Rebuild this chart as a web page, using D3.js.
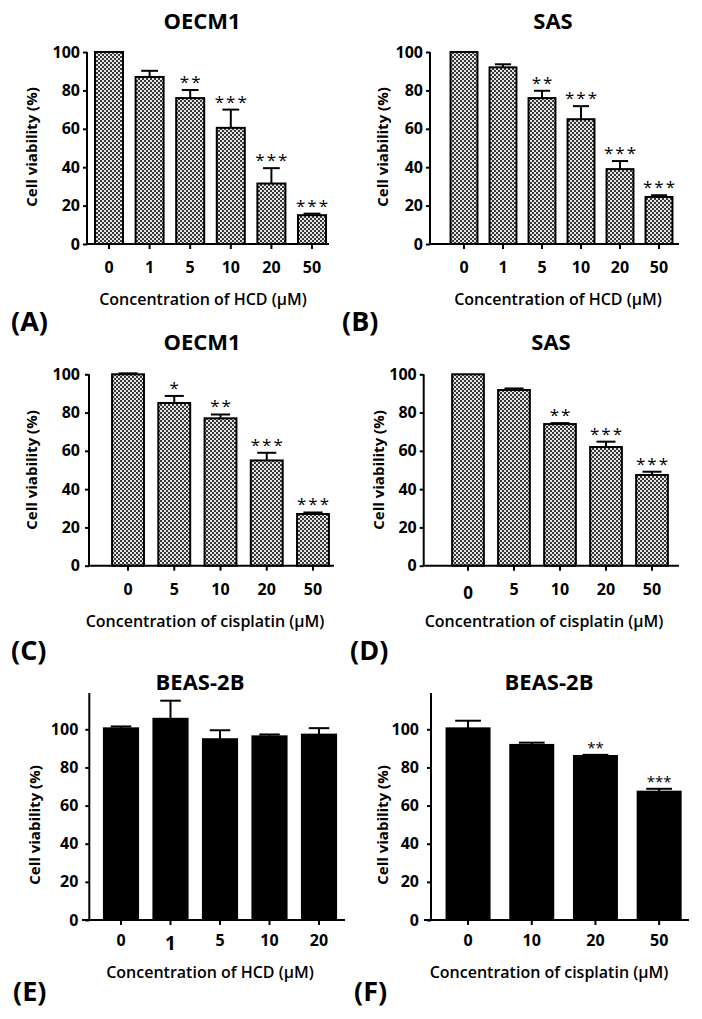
<!DOCTYPE html>
<html>
<head>
<meta charset="utf-8">
<script src="https://cdn.jsdelivr.net/npm/d3@7"></script>
<style>
  body { margin: 0; background: #fff; }
  svg { display: block; }
</style>
</head>
<body>
<div id="figure"></div>
<script>
// doses (µM)
const hcdDoses = ["0", "1", "5", "10", "20", "50"];
const cisDoses = ["0", "5", "10", "20", "50"];
const beasHcdDoses = ["0", "1", "5", "10", "20"];
const beasCisDoses = ["0", "10", "20", "50"];

// (A) OECM1 + HCD
const oecm1HcdMean = [100, 87, 76, 60.5, 31.5, 15];
const oecm1HcdSd = [0, 3.2, 4.2, 9.5, 8, 0.8];
const oecm1HcdStars = ["", "", "**", "***", "***", "***"];

// (B) SAS + HCD
const sasHcdMean = [100, 92, 76, 65, 39, 24.5];
const sasHcdSd = [0, 1.6, 3.8, 6.8, 4.2, 0.9];
const sasHcdStars = ["", "", "**", "***", "***", "***"];

// (C) OECM1 + cisplatin
const oecm1CisMean = [100, 85, 77, 55, 27];
const oecm1CisSd = [0.5, 3.7, 2, 4, 0.8];
const oecm1CisStars = ["", "*", "**", "***", "***"];

// (D) SAS + cisplatin
const sasCisMean = [100, 91.8, 74, 62, 47.4];
const sasCisSd = [0, 0.8, 0.5, 2.8, 1.7];
const sasCisStars = ["", "", "**", "***", "***"];

// (E) BEAS-2B + HCD
const beasHcdMean = [100.5, 105.5, 94.8, 96.3, 97.2];
const beasHcdSd = [1, 9.5, 4.7, 1, 3.4];
const beasHcdStars = ["", "", "", "", ""];

// (F) BEAS-2B + cisplatin
const beasCisMean = [100.5, 91.8, 86, 67.3];
const beasCisSd = [4, 1.2, 0.6, 1.5];
const beasCisStars = ["", "", "**", "***"];

const yTicks = [0, 20, 40, 60, 80, 100];

const FONT = "'Open Sans', Lato, sans-serif";

const panels = [
  { label: "(A)", title: "OECM1", doses: hcdDoses, mean: oecm1HcdMean, sd: oecm1HcdSd, stars: oecm1HcdStars,
    xTitle: "Concentration of HCD (µM)", fill: "url(#checker)", starSize: 17, starSpacing: 2,
    axisX: 87, xRange: [88.7, 332.3], pad: 0.31, xStart: 87, xEnd: 329, y0: 244, y100: 52, yTop: 100,
    titleX: 202, titleY: 29, yTitleX: 32, yTitleY: 147, xTitleX: 203, xTitleY: 305,
    labelX: 11, labelY: 331, tickPad: 3, xTickPad: 13 },
  { label: "(B)", title: "SAS", doses: hcdDoses, mean: sasHcdMean, sd: sasHcdSd, stars: sasHcdStars,
    xTitle: "Concentration of HCD (µM)", fill: "url(#checker)", starSize: 17, starSpacing: 2,
    axisX: 430, xRange: [444.5, 678.5], pad: 0.31, xStart: 430, xEnd: 679, y0: 244, y100: 52, yTop: 100,
    titleX: 553, titleY: 29, yTitleX: 383, yTitleY: 147, xTitleX: 558, xTitleY: 305,
    labelX: 342, labelY: 331, tickPad: 3, xTickPad: 13 },
  { label: "(C)", title: "OECM1", doses: cisDoses, mean: oecm1CisMean, sd: oecm1CisSd, stars: oecm1CisStars,
    xTitle: "Concentration of cisplatin (µM)", fill: "url(#checker)", starSize: 17, starSpacing: 2,
    axisX: 89, xRange: [104.9, 336.1], pad: 0.31, xStart: 89, xEnd: 334, y0: 565.7, y100: 374.3, yTop: 100,
    titleX: 202, titleY: 350, yTitleX: 32, yTitleY: 470, xTitleX: 205, xTitleY: 627,
    labelX: 11, labelY: 660, tickPad: 5, xTickPad: 13 },
  { label: "(D)", title: "SAS", doses: cisDoses, mean: sasCisMean, sd: sasCisSd, stars: sasCisStars,
    xTitle: "Concentration of cisplatin (µM)", fill: "url(#checker)", starSize: 17, starSpacing: 2,
    axisX: 423.7, xRange: [445, 675], pad: 0.31, xStart: 423.7, xEnd: 679, y0: 565.7, y100: 374.3, yTop: 100,
    titleX: 551, titleY: 350, yTitleX: 379, yTitleY: 470, xTitleX: 544, xTitleY: 627,
    labelX: 350, labelY: 660, tickPad: 3, xTickPad: 13, oddTick: "0", oddSize: 17, oddShift: 3 },
  { label: "(E)", title: "BEAS-2B", doses: beasHcdDoses, mean: beasHcdMean, sd: beasHcdSd, stars: beasHcdStars,
    xTitle: "Concentration of HCD (µM)", fill: "#000", starSize: 17, starSpacing: 2,
    axisX: 89.3, xRange: [96.25, 343.75], pad: 0.31, xStart: 82, xEnd: 345, y0: 920, y100: 729.3, yTop: 119,
    titleX: 200, titleY: 690, yTitleX: 35, yTitleY: 825, xTitleX: 210, xTitleY: 978,
    labelX: 13, labelY: 1001, tickPad: 7, xTickPad: 10, oddTick: "1", oddSize: 19, oddShift: 2 },
  { label: "(F)", title: "BEAS-2B", doses: beasCisDoses, mean: beasCisMean, sd: beasCisSd, stars: beasCisStars,
    xTitle: "Concentration of cisplatin (µM)", fill: "#000", starSize: 15, starSpacing: 0,
    axisX: 431, xRange: [436.2, 691], pad: 0.325, xStart: 424, xEnd: 689, y0: 920, y100: 729.3, yTop: 119,
    titleX: 549, titleY: 690, yTitleX: 383, yTitleY: 825, xTitleX: 549, xTitleY: 978,
    labelX: 354, labelY: 1001, tickPad: 8, xTickPad: 10 }
];

const svg = d3.select("#figure")
  .append("svg")
    .attr("width", 702)
    .attr("height", 1019)
    .style("font-family", FONT);

// checkered fill used by the patterned bars
const pat = svg.append("defs")
  .append("pattern")
    .attr("id", "checker")
    .attr("width", 4)
    .attr("height", 4)
    .attr("patternUnits", "userSpaceOnUse");
pat.append("rect").attr("width", 4).attr("height", 4).attr("fill", "#e4e4e4");
pat.append("rect").attr("width", 2).attr("height", 2).attr("fill", "#383838");
pat.append("rect").attr("x", 2).attr("y", 2).attr("width", 2).attr("height", 2).attr("fill", "#383838");

function drawPanel(p) {
  const g = svg.append("g");

  const x = d3.scaleBand()
              .domain(p.doses)
              .range(p.xRange)
              .paddingInner(p.pad)
              .paddingOuter(p.pad / 2);

  const y = d3.scaleLinear()
              .domain([0, 100])
              .range([p.y0, p.y100]);

  const rows = p.doses.map((d, i) => ({ dose: d, mean: p.mean[i], sd: p.sd[i], star: p.stars[i] }));

  // bars
  g.selectAll(".bar")
    .data(rows)
    .enter()
    .append("rect")
      .classed("bar", true)
      .attr("x", d => x(d.dose))
      .attr("y", d => y(d.mean))
      .attr("width", x.bandwidth())
      .attr("height", d => p.y0 - y(d.mean))
      .attr("fill", p.fill)
      .attr("stroke", "#000")
      .attr("stroke-width", 2);

  // error bars (upper only)
  const capW = x.bandwidth() * 0.6;
  const err = g.selectAll(".err")
    .data(rows.filter(d => d.sd > 0))
    .enter()
    .append("g")
      .classed("err", true);
  err.append("line")
      .attr("x1", d => x(d.dose) + x.bandwidth() / 2)
      .attr("x2", d => x(d.dose) + x.bandwidth() / 2)
      .attr("y1", d => y(d.mean))
      .attr("y2", d => y(d.mean + d.sd))
      .attr("stroke", "#000")
      .attr("stroke-width", 2);
  err.append("line")
      .attr("x1", d => x(d.dose) + x.bandwidth() / 2 - capW / 2)
      .attr("x2", d => x(d.dose) + x.bandwidth() / 2 + capW / 2)
      .attr("y1", d => y(d.mean + d.sd))
      .attr("y2", d => y(d.mean + d.sd))
      .attr("stroke", "#000")
      .attr("stroke-width", 2);

  // significance stars
  g.selectAll(".star")
    .data(rows.filter(d => d.star))
    .enter()
    .append("text")
      .classed("star", true)
      .attr("x", d => x(d.dose) + x.bandwidth() / 2 + p.starSpacing / 2)
      .attr("y", d => y(d.mean + d.sd) - 2)
      .attr("text-anchor", "middle")
      .attr("font-size", p.starSize)
      .attr("letter-spacing", p.starSpacing)
      .attr("fill", "#000")
      .text(d => d.star);

  // y axis
  const ya = g.append("g")
    .attr("transform", `translate(${p.axisX},0)`)
    .call(d3.axisLeft(y).tickValues(yTicks).tickSize(4).tickSizeOuter(0).tickPadding(p.tickPad));
  ya.select(".domain").remove();
  ya.attr("font-size", 16).attr("font-family", FONT).attr("font-weight", "bold");
  ya.selectAll(".tick line").attr("stroke-width", 2);
  g.append("line")
    .attr("x1", p.axisX).attr("x2", p.axisX)
    .attr("y1", y(p.yTop)).attr("y2", p.y0)
    .attr("stroke", "#000").attr("stroke-width", 2);

  // x axis
  const xa = g.append("g")
    .attr("transform", `translate(0,${p.y0})`)
    .call(d3.axisBottom(x).tickSize(5).tickSizeOuter(0).tickPadding(p.xTickPad));
  xa.select(".domain").remove();
  xa.attr("font-size", 16).attr("font-family", FONT).attr("font-weight", "bold");
  xa.selectAll(".tick line").attr("stroke-width", 2);
  // one label in (D) and (E) was set in a different font size in the original
  if (p.oddTick) {
    xa.selectAll(".tick text")
      .filter(d => d === p.oddTick)
      .attr("font-size", p.oddSize)
      .attr("y", 5 + p.xTickPad + p.oddShift);
  }
  g.append("line")
    .attr("x1", p.xStart).attr("x2", p.xEnd)
    .attr("y1", p.y0).attr("y2", p.y0)
    .attr("stroke", "#000").attr("stroke-width", 2);

  // titles
  g.append("text")
    .attr("x", p.titleX).attr("y", p.titleY)
    .attr("text-anchor", "middle")
    .attr("font-size", 22).attr("font-weight", "bold")
    .text(p.title);

  g.append("text")
    .attr("transform", `translate(${p.yTitleX},${p.yTitleY}) rotate(-90)`)
    .attr("text-anchor", "middle")
    .attr("dy", "0.35em")
    .attr("font-size", 15).attr("font-weight", "bold")
    .text("Cell viability (%)");

  g.append("text")
    .attr("x", p.xTitleX).attr("y", p.xTitleY)
    .attr("text-anchor", "middle")
    .attr("font-size", 16).attr("font-weight", 600)
    .text(p.xTitle);

  g.append("text")
    .attr("x", p.labelX).attr("y", p.labelY)
    .attr("font-size", 27).attr("font-weight", "bold")
    .text(p.label);
}

panels.forEach(drawPanel);
</script>
</body>
</html>
